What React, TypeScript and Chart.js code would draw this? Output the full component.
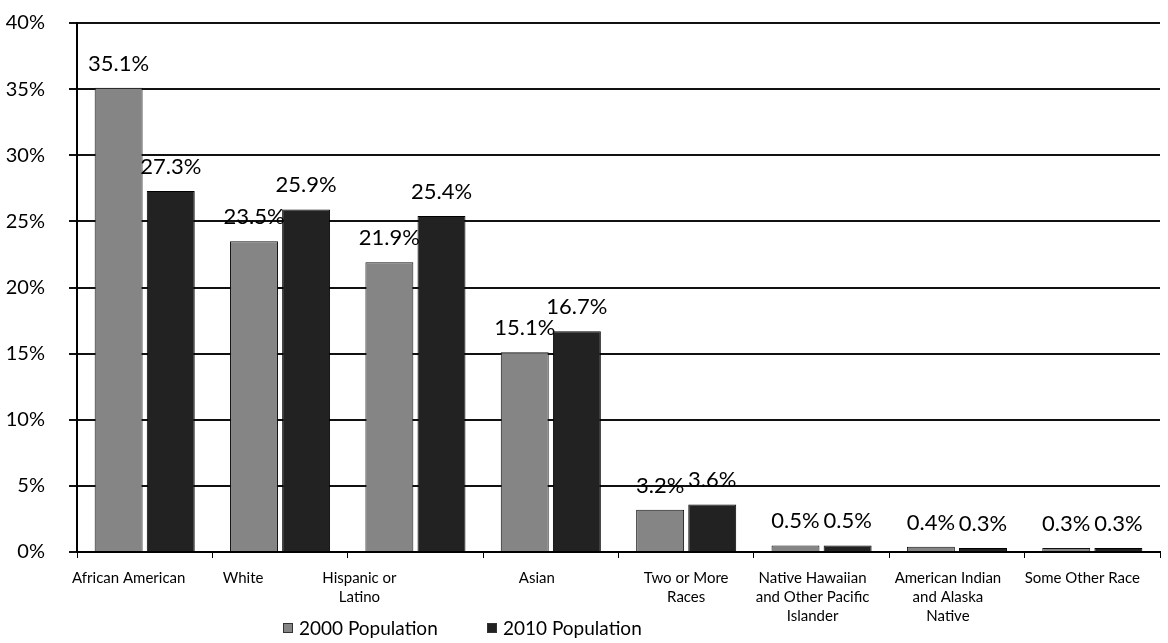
import React, { useEffect, useRef } from "react";
import { Chart, registerables } from "chart.js";

Chart.register(...registerables);

const categories: string[][] = [
  ["African American"],
  ["White"],
  ["Hispanic or", "Latino"],
  ["Asian"],
  ["Two or More", "Races"],
  ["Native Hawaiian", "and Other Pacific", "Islander"],
  ["American Indian", "and Alaska", "Native"],
  ["Some Other Race"],
];
const pop2000 = [35.1, 23.5, 21.9, 15.1, 3.2, 0.5, 0.4, 0.3];
const pop2010 = [27.3, 25.9, 25.4, 16.7, 3.6, 0.5, 0.3, 0.3];
const seriesNames = ["2000 Population", "2010 Population"];
const yMin = 0;
const yMax = 40;
const yStep = 5;

// style: horizontal nudge of each category label, as placed in the source scan
const labelNudge = [-16, -37, -56, -14, 0, -9, -9, -10];

const COLOR_2000 = "#858585";
const COLOR_2010 = "#222222";
const FONT = "Lato, 'Open Sans', sans-serif";

const dataLabelPlugin = {
  id: "dataLabels",
  afterDatasetsDraw(chart: any) {
    const ctx = chart.ctx;
    ctx.save();
    ctx.font = `22px ${FONT}`;
    ctx.fillStyle = "#000";
    ctx.textAlign = "center";
    ctx.textBaseline = "alphabetic";
    chart.data.datasets.forEach((ds: any, di: number) => {
      const meta = chart.getDatasetMeta(di);
      meta.data.forEach((el: any, i: number) => {
        const v = ds.data[i];
        ctx.fillText(`${v.toFixed(1)}%`, el.x, el.y - 17);
      });
    });
    ctx.restore();
  },
};

const xLabelPlugin = {
  id: "xLabels",
  afterDraw(chart: any) {
    const ctx = chart.ctx;
    const xs = chart.scales.x;
    ctx.save();
    ctx.font = `15px ${FONT}`;
    ctx.fillStyle = "#000";
    ctx.textAlign = "center";
    ctx.textBaseline = "middle";
    const top = chart.chartArea.bottom + 26;
    categories.forEach((lines, i) => {
      const cx = xs.getPixelForValue(i) + labelNudge[i];
      lines.forEach((ln, j) => {
        ctx.fillText(ln, cx, top + j * 19);
      });
    });
    ctx.restore();
  },
};

export default function App() {
  const ref = useRef<HTMLCanvasElement | null>(null);

  useEffect(() => {
    if (!ref.current) return;
    const chart = new Chart(ref.current, {
      type: "bar",
      data: {
        labels: categories.map((c) => c.join(" ")),
        datasets: [
          {
            label: seriesNames[0],
            data: pop2000,
            backgroundColor: COLOR_2000,
            borderColor: "#111",
            borderWidth: 1,
            categoryPercentage: 0.77,
            barPercentage: 0.92,
          },
          {
            label: seriesNames[1],
            data: pop2010,
            backgroundColor: COLOR_2010,
            borderColor: "#000",
            borderWidth: 1,
            categoryPercentage: 0.77,
            barPercentage: 0.92,
          },
        ],
      },
      options: {
        animation: false,
        responsive: true,
        maintainAspectRatio: false,
        layout: { padding: { top: 0, right: 8, left: 0, bottom: 0 } },
        plugins: {
          legend: { display: false },
          tooltip: { enabled: false },
        },
        scales: {
          x: {
            grid: {
              drawOnChartArea: false,
              drawTicks: true,
              tickLength: 6,
              color: "#000",
              lineWidth: 1,
            },
            border: { display: true, color: "#000", width: 2 },
            ticks: { display: false },
            afterFit(scale: any) {
              scale.height = 91;
            },
          },
          y: {
            min: yMin,
            max: yMax,
            grid: {
              color: "#111",
              lineWidth: 2,
              drawTicks: true,
              tickLength: 8,
            },
            border: { display: true, color: "#000", width: 2 },
            ticks: {
              stepSize: yStep,
              color: "#000",
              font: { family: FONT, size: 20 },
              padding: 24,
              callback: (v: any) => `${v}%`,
            },
            afterFit(scale: any) {
              scale.width = 77;
            },
          },
        },
      },
      plugins: [dataLabelPlugin, xLabelPlugin],
    });
    return () => chart.destroy();
  }, []);

  const legendItem = (color: string, text: string, left: number) => (
    <div
      style={{
        position: "absolute",
        left,
        top: 616,
        display: "flex",
        alignItems: "center",
        fontFamily: FONT,
        fontSize: 19,
        color: "#000",
        whiteSpace: "nowrap",
      }}
    >
      <span
        style={{
          display: "inline-block",
          width: 8,
          height: 8,
          background: color,
          border: "1px solid #333",
          marginRight: 6,
        }}
      />
      {text}
    </div>
  );

  return (
    <div
      style={{
        position: "fixed",
        left: 0,
        top: 0,
        width: 1168,
        height: 643,
        background: "#fff",
        overflow: "hidden",
      }}
    >
      <div style={{ position: "absolute", left: 0, top: -13, width: 1168, height: 656 }}>
        <canvas ref={ref} />
      </div>
      {legendItem(COLOR_2000, seriesNames[0], 283)}
      {legendItem(COLOR_2010, seriesNames[1], 487)}
    </div>
  );
}
